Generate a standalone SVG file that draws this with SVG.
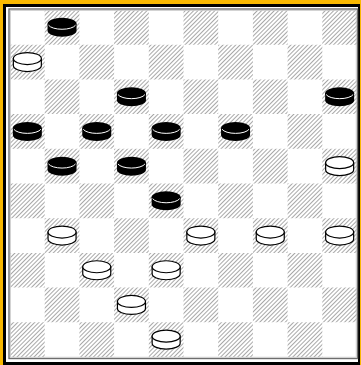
<svg xmlns="http://www.w3.org/2000/svg" xmlns:xlink="http://www.w3.org/1999/xlink" width="361" height="365" viewBox="0 0 361 365">
<style>
.gold{fill:#f9b800}
.frame{fill:#000}
.dark{fill:url(#hatch)}
</style>
<defs>
<pattern id="hatch" width="3" height="3" patternUnits="userSpaceOnUse" patternTransform="rotate(45)">
<rect width="3" height="3" fill="#fff"/>
<line x1="0.5" y1="0" x2="0.5" y2="3" stroke="#a8a8a8" stroke-width="1"/>
</pattern>
<g id="black-man">
<path d="M-14.5,-3.5 V3.5 A14.5 6 0 0 0 14.5 3.5 V-3.5 Z" fill="#000"/>
<ellipse cx="0" cy="-3.5" rx="14.5" ry="6" fill="#000"/>
<path d="M-13.5,-2.2 A14 5.6 0 0 0 13.5,-2.2" fill="none" stroke="#fff" stroke-width="1"/>
</g>
<g id="white-man">
<path d="M-14,-3.5 V3.5 A14 6 0 0 0 14 3.5 V-3.5 Z" fill="#fff" stroke="#000" stroke-width="1.2"/>
<ellipse cx="0" cy="-3.5" rx="14" ry="6" fill="#fff" stroke="#000" stroke-width="1.2"/>
</g>
</defs>
<rect width="361" height="365" fill="#fff"/>
<g id="frame">
<rect class="gold" x="0" y="0" width="361" height="4"/>
<rect class="gold" x="0" y="0" width="3" height="365"/>
<rect class="gold" x="360" y="0" width="1" height="365"/>
<rect class="frame" x="3" y="4" width="357" height="3"/>
<rect class="frame" x="3" y="4" width="3" height="361"/>
<rect class="frame" x="358" y="4" width="2" height="361"/>
<rect class="frame" x="3" y="362" width="357" height="3"/>
</g>
<g id="board">
<path class="dark" d="
M44.7,10h34.7v34.7h-34.7z M114.1,10h34.7v34.7h-34.7z M183.5,10h34.7v34.7h-34.7z M252.9,10h34.7v34.7h-34.7z M322.3,10h34.7v34.7h-34.7z
M10,44.7h34.7v34.7h-34.7z M79.4,44.7h34.7v34.7h-34.7z M148.8,44.7h34.7v34.7h-34.7z M218.2,44.7h34.7v34.7h-34.7z M287.6,44.7h34.7v34.7h-34.7z
M44.7,79.4h34.7v34.7h-34.7z M114.1,79.4h34.7v34.7h-34.7z M183.5,79.4h34.7v34.7h-34.7z M252.9,79.4h34.7v34.7h-34.7z M322.3,79.4h34.7v34.7h-34.7z
M10,114.1h34.7v34.7h-34.7z M79.4,114.1h34.7v34.7h-34.7z M148.8,114.1h34.7v34.7h-34.7z M218.2,114.1h34.7v34.7h-34.7z M287.6,114.1h34.7v34.7h-34.7z
M44.7,148.8h34.7v34.7h-34.7z M114.1,148.8h34.7v34.7h-34.7z M183.5,148.8h34.7v34.7h-34.7z M252.9,148.8h34.7v34.7h-34.7z M322.3,148.8h34.7v34.7h-34.7z
M10,183.5h34.7v34.7h-34.7z M79.4,183.5h34.7v34.7h-34.7z M148.8,183.5h34.7v34.7h-34.7z M218.2,183.5h34.7v34.7h-34.7z M287.6,183.5h34.7v34.7h-34.7z
M44.7,218.2h34.7v34.7h-34.7z M114.1,218.2h34.7v34.7h-34.7z M183.5,218.2h34.7v34.7h-34.7z M252.9,218.2h34.7v34.7h-34.7z M322.3,218.2h34.7v34.7h-34.7z
M10,252.9h34.7v34.7h-34.7z M79.4,252.9h34.7v34.7h-34.7z M148.8,252.9h34.7v34.7h-34.7z M218.2,252.9h34.7v34.7h-34.7z M287.6,252.9h34.7v34.7h-34.7z
M44.7,287.6h34.7v34.7h-34.7z M114.1,287.6h34.7v34.7h-34.7z M183.5,287.6h34.7v34.7h-34.7z M252.9,287.6h34.7v34.7h-34.7z M322.3,287.6h34.7v34.7h-34.7z
M10,322.3h34.7v34.7h-34.7z M79.4,322.3h34.7v34.7h-34.7z M148.8,322.3h34.7v34.7h-34.7z M218.2,322.3h34.7v34.7h-34.7z M287.6,322.3h34.7v34.7h-34.7z"/>
<rect x="9" y="9" width="348.5" height="349.5" fill="none" stroke="#6e6e6e" stroke-width="1.4"/>
<rect x="10.4" y="10.4" width="345.8" height="346.8" fill="none" stroke="#c8c8c8" stroke-width="0.8"/>
</g>
<g id="pieces">
<g id="b-r0c1"><use xlink:href="#black-man" x="62.05" y="27.35"/></g>
<g id="b-r2c3"><use xlink:href="#black-man" x="131.45" y="96.75"/></g>
<g id="b-r2c9"><use xlink:href="#black-man" x="339.65" y="96.75"/></g>
<g id="b-r3c0"><use xlink:href="#black-man" x="27.35" y="131.45"/></g>
<g id="b-r3c2"><use xlink:href="#black-man" x="96.75" y="131.45"/></g>
<g id="b-r3c4"><use xlink:href="#black-man" x="166.15" y="131.45"/></g>
<g id="b-r3c6"><use xlink:href="#black-man" x="235.55" y="131.45"/></g>
<g id="b-r4c1"><use xlink:href="#black-man" x="62.05" y="166.15"/></g>
<g id="b-r4c3"><use xlink:href="#black-man" x="131.45" y="166.15"/></g>
<g id="b-r5c4"><use xlink:href="#black-man" x="166.15" y="200.85"/></g>
<g id="w-r1c0"><use xlink:href="#white-man" x="27.35" y="62.05"/></g>
<g id="w-r4c9"><use xlink:href="#white-man" x="339.65" y="166.15"/></g>
<g id="w-r6c1"><use xlink:href="#white-man" x="62.05" y="235.55"/></g>
<g id="w-r6c5"><use xlink:href="#white-man" x="200.85" y="235.55"/></g>
<g id="w-r6c7"><use xlink:href="#white-man" x="270.25" y="235.55"/></g>
<g id="w-r6c9"><use xlink:href="#white-man" x="339.65" y="235.55"/></g>
<g id="w-r7c2"><use xlink:href="#white-man" x="96.75" y="270.25"/></g>
<g id="w-r7c4"><use xlink:href="#white-man" x="166.15" y="270.25"/></g>
<g id="w-r8c3"><use xlink:href="#white-man" x="131.45" y="304.95"/></g>
<g id="w-r9c4"><use xlink:href="#white-man" x="166.15" y="339.65"/></g>
</g>
</svg>
